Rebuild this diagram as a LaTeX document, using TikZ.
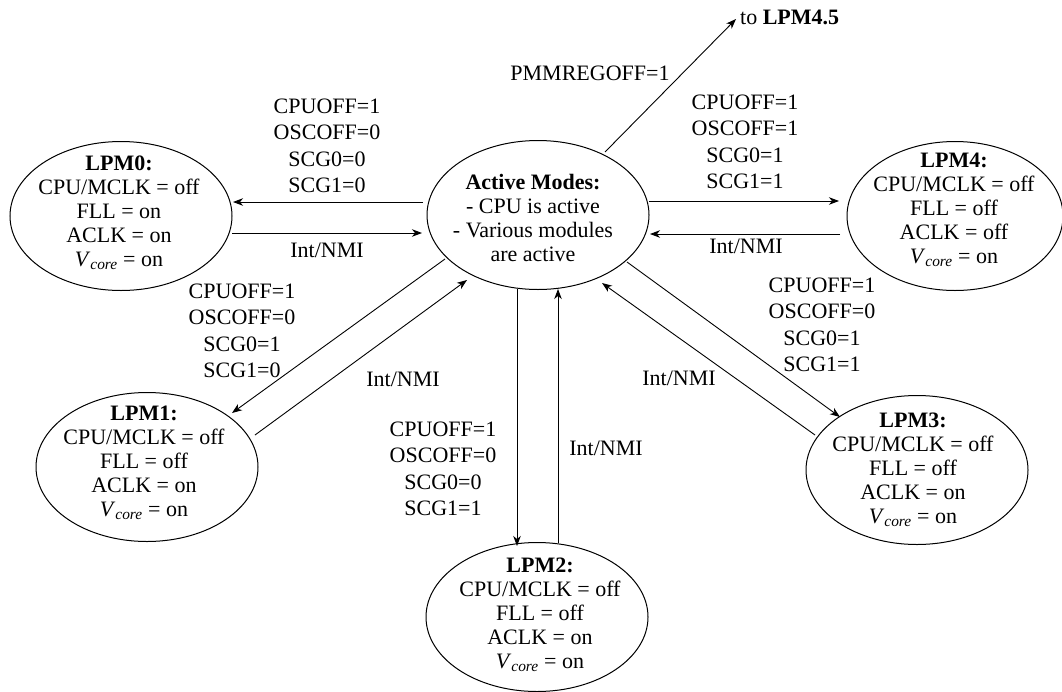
\documentclass[tikz,border=0pt]{standalone}
\usepackage{fontspec}
\setmainfont{Liberation Serif}
\usetikzlibrary{shapes.geometric,arrows.meta,calc}

\newcommand{\vcoretxt}{\textit{V}\textsubscript{\textit{core}}}

\tikzset{
  mode/.style={draw, ellipse, line width=1pt, minimum width=222pt,
    minimum height=149pt, inner sep=0pt},
  modetext/.style={align=center, inner sep=0pt,
    font=\fontsize{22}{24}\selectfont},
  cond/.style={align=center, inner sep=0pt,
    font=\fontsize{22}{26.5}\selectfont},
  trans/.style={line width=0.9pt,
    -{Stealth[length=10pt,width=7.5pt,inset=3pt]}},
}

\begin{document}
\begin{tikzpicture}[x=1pt,y=-1pt]
\useasboundingbox (0,0) rectangle (1062,691);

% operating modes
\node[mode] (act)  at (538,215) {};
\node[mode] (lpm0) at (121,216) {};
\node[mode, minimum width=216pt] (lpm4) at (955,216) {};
\node[mode] (lpm1) at (147,467) {};
\node[mode] (lpm3) at (917,470) {};
\node[mode] (lpm2) at (537,617) {};

\node[modetext] (acttxt) at (533,218)
  {\textbf{Active Modes:}\\- CPU is active\\- Various modules\\are active};
\node[modetext] (lpm0txt) at (119,213)
  {\textbf{LPM0:}\\CPU/MCLK = off\\FLL = on\\ACLK = on\\\vcoretxt{} = on};
\node[modetext] (lpm4txt) at (954,210)
  {\textbf{LPM4:}\\CPU/MCLK = off\\FLL = off\\ACLK = off\\\vcoretxt{} = on};
\node[modetext] (lpm1txt) at (144,463)
  {\textbf{LPM1:}\\CPU/MCLK = off\\FLL = off\\ACLK = on\\\vcoretxt{} = on};
\node[modetext] (lpm3txt) at (913,470)
  {\textbf{LPM3:}\\CPU/MCLK = off\\FLL = off\\ACLK = on\\\vcoretxt{} = on};
\node[modetext] (lpm2txt) at (540,615)
  {\textbf{LPM2:}\\CPU/MCLK = off\\FLL = off\\ACLK = on\\\vcoretxt{} = on};

\node[cond, anchor=west] (lpm45) at (740,17) {to \textbf{LPM4.5}};

% transition conditions
\node[cond] (c0) at (327,146) {CPUOFF=1\\OSCOFF=0\\SCG0=0\\SCG1=0};
\node[cond] (i0) at (327,250) {Int/NMI};
\node[cond] (c1) at (242,331) {CPUOFF=1\\OSCOFF=0\\SCG0=1\\SCG1=0};
\node[cond] (i1) at (403,379) {Int/NMI};
\node[cond] (c4) at (745,142) {CPUOFF=1\\OSCOFF=1\\SCG0=1\\SCG1=1};
\node[cond] (i4) at (746,246) {Int/NMI};
\node[cond] (c3) at (822,325) {CPUOFF=1\\OSCOFF=0\\SCG0=1\\SCG1=1};
\node[cond] (i3) at (679,378) {Int/NMI};
\node[cond] (c2) at (443,469) {CPUOFF=1\\OSCOFF=0\\SCG0=0\\SCG1=1};
\node[cond] (i2) at (606,448) {Int/NMI};
\node[cond] (pmm) at (590,73) {PMMREGOFF=1};

% transitions
\draw[trans] ($(act.center)+(-115,-13)$) -- ($(lpm0.center)+(112,-14)$);
\draw[trans] ($(lpm0.center)+(111,17)$) -- ($(act.center)+(-116,18)$);
\draw[trans] ($(act.center)+(111,-14)$) -- ($(lpm4.center)+(-116,-15)$);
\draw[trans] ($(lpm4.center)+(-115,18)$) -- ($(act.center)+(112,19)$);
\draw[trans] ($(act.center)+(-21,74)$) -- ($(lpm2.center)+(-20,-71)$);
\draw[trans] ($(lpm2.center)+(21,-74)$) -- ($(act.center)+(20,74)$);
\draw[trans] ($(act.center)+(-93,44)$) -- ($(lpm1.center)+(85,-54)$);
\draw[trans] ($(lpm1.center)+(108,-32)$) -- ($(act.center)+(-71,65)$);
\draw[trans] ($(act.center)+(89,47)$) -- ($(lpm3.center)+(-77,-53)$);
\draw[trans] ($(lpm3.center)+(-102,-35)$) -- ($(act.center)+(64,68)$);
\draw[trans] ($(act.center)+(67,-63)$) -- ($(lpm45.west)+(-4,2)$);
\end{tikzpicture}
\end{document}
